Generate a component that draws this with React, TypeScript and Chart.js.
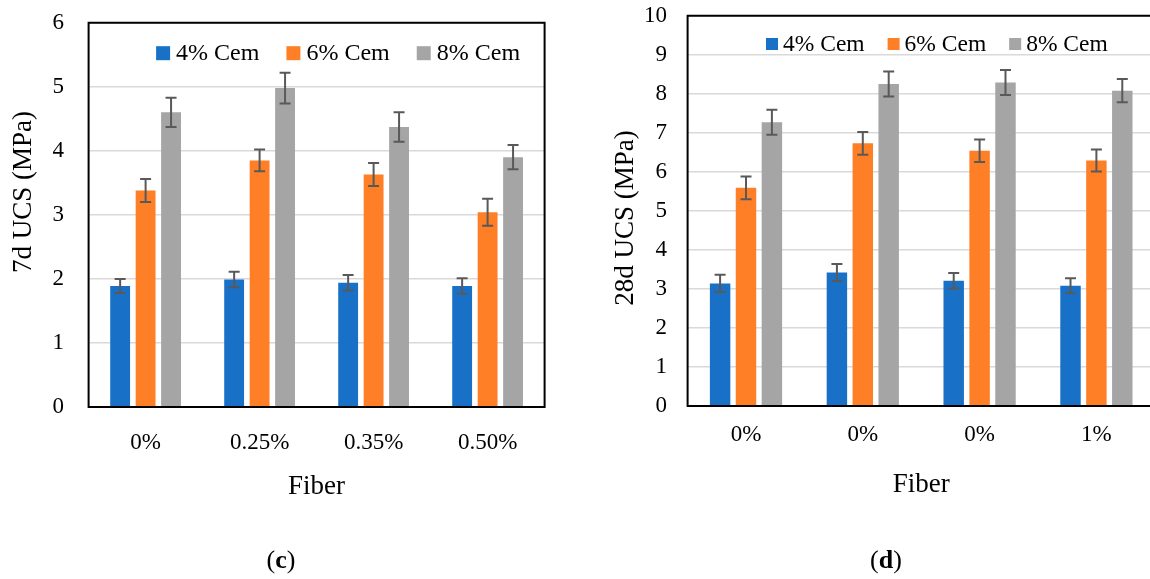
import React, { useEffect, useRef } from 'react';
import { Chart, registerables } from 'chart.js';

Chart.register(...registerables);

// ---------- data ----------
const fiberLabels7d = ['0%', '0.25%', '0.35%', '0.50%'];
const fiberLabels28d = ['0%', '0%', '0%', '1%'];
const seriesNames = ['4% Cem', '6% Cem', '8% Cem'];
const seriesColors = ['#1971C7', '#FF7F27', '#A5A5A5'];

const ucs7dCem4 = [1.89, 1.99, 1.94, 1.89];
const ucs7dCem6 = [3.38, 3.85, 3.63, 3.04];
const ucs7dCem8 = [4.6, 4.98, 4.37, 3.9];
const err7dCem4 = [0.11, 0.12, 0.12, 0.12];
const err7dCem6 = [0.18, 0.17, 0.18, 0.21];
const err7dCem8 = [0.23, 0.24, 0.23, 0.19];

const ucs28dCem4 = [3.14, 3.42, 3.21, 3.08];
const ucs28dCem6 = [5.59, 6.73, 6.54, 6.29];
const ucs28dCem8 = [7.27, 8.25, 8.29, 8.08];
const err28dCem4 = [0.22, 0.22, 0.2, 0.19];
const err28dCem6 = [0.29, 0.29, 0.29, 0.28];
const err28dCem8 = [0.32, 0.32, 0.32, 0.3];

const yMax7d = 6;
const yMax28d = 10;
const yStep = 1;

const FONT = '"Liberation Serif", "Times New Roman", serif';

type Panel = {
  width: number;
  height: number;
  labels: string[];
  values: number[][];
  errors: number[][];
  yMax: number;
  yTitle: string;
  padTop: number;
  padRight: number;
  yAxisWidth: number;
  yTickPad: number;
  xTickPad: number;
  areaBottom: number;
  tickSize: number;
  legendSize: number;
  legendOffsetX: number;
  legendOffsetY: number;
  legendSquare: number;
  legendGap: number;
  legendItemGap: number;
  titleSize: number;
  yTitleX: number;
  yTitleY: number;
  xTitleY: number;
  fullFrame: boolean;
  catPct: number;
  barPct: number;
};

function makePlugin(p: Panel) {
  return {
    id: 'panelDecor',
    afterDatasetsDraw(chart: any) {
      const { ctx, chartArea } = chart;
      const y = chart.scales.y;
      // frame
      ctx.save();
      ctx.strokeStyle = '#000';
      ctx.lineWidth = 2;
      ctx.beginPath();
      if (p.fullFrame) {
        ctx.rect(chartArea.left, chartArea.top, chartArea.right - chartArea.left, chartArea.bottom - chartArea.top);
      } else {
        ctx.moveTo(chartArea.right + 20, chartArea.top);
        ctx.lineTo(chartArea.left, chartArea.top);
        ctx.lineTo(chartArea.left, chartArea.bottom);
        ctx.lineTo(chartArea.right + 20, chartArea.bottom);
      }
      ctx.stroke();
      ctx.restore();
      // error bars
      ctx.save();
      ctx.strokeStyle = '#595959';
      ctx.lineWidth = 2;
      chart.data.datasets.forEach((ds: any, i: number) => {
        const meta = chart.getDatasetMeta(i);
        meta.data.forEach((bar: any, j: number) => {
          const v = ds.data[j];
          const e = ds.errors[j];
          const yt = y.getPixelForValue(v + e);
          const yb = y.getPixelForValue(v - e);
          const cap = 5.5;
          ctx.beginPath();
          ctx.moveTo(bar.x, yt);
          ctx.lineTo(bar.x, yb);
          ctx.moveTo(bar.x - cap, yt);
          ctx.lineTo(bar.x + cap, yt);
          ctx.moveTo(bar.x - cap, yb);
          ctx.lineTo(bar.x + cap, yb);
          ctx.stroke();
        });
      });
      ctx.restore();
    },
    afterDraw(chart: any) {
      const { ctx, chartArea } = chart;
      // legend
      ctx.save();
      ctx.font = `${p.legendSize}px ${FONT}`;
      ctx.textBaseline = 'middle';
      ctx.textAlign = 'left';
      let x = chartArea.left + p.legendOffsetX;
      const cy = chartArea.top + p.legendOffsetY;
      chart.data.datasets.forEach((ds: any) => {
        ctx.fillStyle = ds.backgroundColor;
        ctx.fillRect(x, cy - p.legendSquare / 2, p.legendSquare, p.legendSquare);
        x += p.legendSquare + p.legendGap;
        ctx.fillStyle = '#000';
        ctx.fillText(ds.label, x, cy + 1);
        x += ctx.measureText(ds.label).width + p.legendItemGap;
      });
      // axis titles
      ctx.font = `${p.titleSize}px ${FONT}`;
      ctx.textAlign = 'center';
      ctx.fillStyle = '#000';
      ctx.fillText('Fiber', (chartArea.left + chartArea.right) / 2, p.xTitleY);
      ctx.translate(p.yTitleX, p.yTitleY);
      ctx.rotate(-Math.PI / 2);
      ctx.fillText(p.yTitle, 0, 0);
      ctx.restore();
    },
  };
}

function BarPanel({ p }: { p: Panel }) {
  const ref = useRef<HTMLCanvasElement | null>(null);
  useEffect(() => {
    if (!ref.current) return;
    const chart = new Chart(ref.current, {
      type: 'bar',
      data: {
        labels: p.labels,
        datasets: p.values.map((vals, i) => ({
          label: seriesNames[i],
          data: vals,
          errors: p.errors[i],
          backgroundColor: seriesColors[i],
          borderWidth: 0,
          categoryPercentage: p.catPct,
          barPercentage: p.barPct,
        })) as any,
      },
      options: {
        responsive: false,
        maintainAspectRatio: false,
        animation: false,
        devicePixelRatio: 1,
        layout: { padding: { top: p.padTop, right: p.padRight, left: 0, bottom: 0 } },
        plugins: { legend: { display: false }, tooltip: { enabled: false }, title: { display: false } },
        scales: {
          x: {
            grid: { display: false, drawTicks: false },
            border: { display: false },
            ticks: { color: '#000', font: { family: FONT, size: p.tickSize }, padding: p.xTickPad, maxRotation: 0 },
            afterFit: (s: any) => { s.height = p.height - p.areaBottom; },
          },
          y: {
            min: 0,
            max: p.yMax,
            grid: { color: '#D9D9D9', lineWidth: 1.5, drawTicks: false },
            border: { display: false },
            ticks: { stepSize: yStep, color: '#000', font: { family: FONT, size: p.tickSize }, padding: p.yTickPad },
            afterFit: (s: any) => {
              s.width = p.yAxisWidth;
              s.paddingTop = 0;
              s.paddingBottom = 0;
            },
          },
        },
      },
      plugins: [makePlugin(p)],
    } as any);
    return () => chart.destroy();
  }, [p]);
  return <canvas ref={ref} width={p.width} height={p.height} style={{ width: p.width, height: p.height, display: 'block' }} />;
}

const panel7d: Panel = {
  width: 560, height: 579,
  labels: fiberLabels7d,
  values: [ucs7dCem4, ucs7dCem6, ucs7dCem8],
  errors: [err7dCem4, err7dCem6, err7dCem8],
  yMax: yMax7d, yTitle: '7d UCS (MPa)',
  padTop: 22.7, padRight: 15.4, yAxisWidth: 88.6, yTickPad: 24.5, xTickPad: 22, areaBottom: 407,
  tickSize: 23, legendSize: 24, legendOffsetX: 67.5, legendOffsetY: 30.5,
  legendSquare: 14, legendGap: 6, legendItemGap: 27,
  titleSize: 27, yTitleX: 24, yTitleY: 192, xTitleY: 487, fullFrame: true,
  catPct: 0.67, barPct: 0.78,
};

const panel28d: Panel = {
  width: 600, height: 579,
  labels: fiberLabels28d,
  values: [ucs28dCem4, ucs28dCem6, ucs28dCem8],
  errors: [err28dCem4, err28dCem6, err28dCem8],
  yMax: yMax28d, yTitle: '28d UCS (MPa)',
  padTop: 15.7, padRight: 15.2, yAxisWidth: 117.6, yTickPad: 20.5, xTickPad: 15.2, areaBottom: 406,
  tickSize: 23, legendSize: 23.5, legendOffsetX: 78.4, legendOffsetY: 28.3,
  legendSquare: 12, legendGap: 5, legendItemGap: 23,
  titleSize: 27, yTitleX: 56, yTitleY: 218, xTitleY: 485, fullFrame: false,
  catPct: 0.665, barPct: 0.79,
};

export default function App() {
  const capStyle: React.CSSProperties = {
    position: 'absolute', width: 100, textAlign: 'center', fontFamily: FONT,
    fontSize: 26, lineHeight: '32px', color: '#000', top: 544,
  };
  return (
    <div style={{ position: 'fixed', left: 0, top: 0, width: 1150, height: 579, overflow: 'hidden', background: '#fff' }}>
      <div style={{ position: 'absolute', left: 0, top: 0 }}>
        <BarPanel p={panel7d} />
      </div>
      <div style={{ position: 'absolute', left: 570, top: 0 }}>
        <BarPanel p={panel28d} />
      </div>
      <div style={{ ...capStyle, left: 231 }}>(<b>c</b>)</div>
      <div style={{ ...capStyle, left: 836 }}>(<b>d</b>)</div>
    </div>
  );
}
